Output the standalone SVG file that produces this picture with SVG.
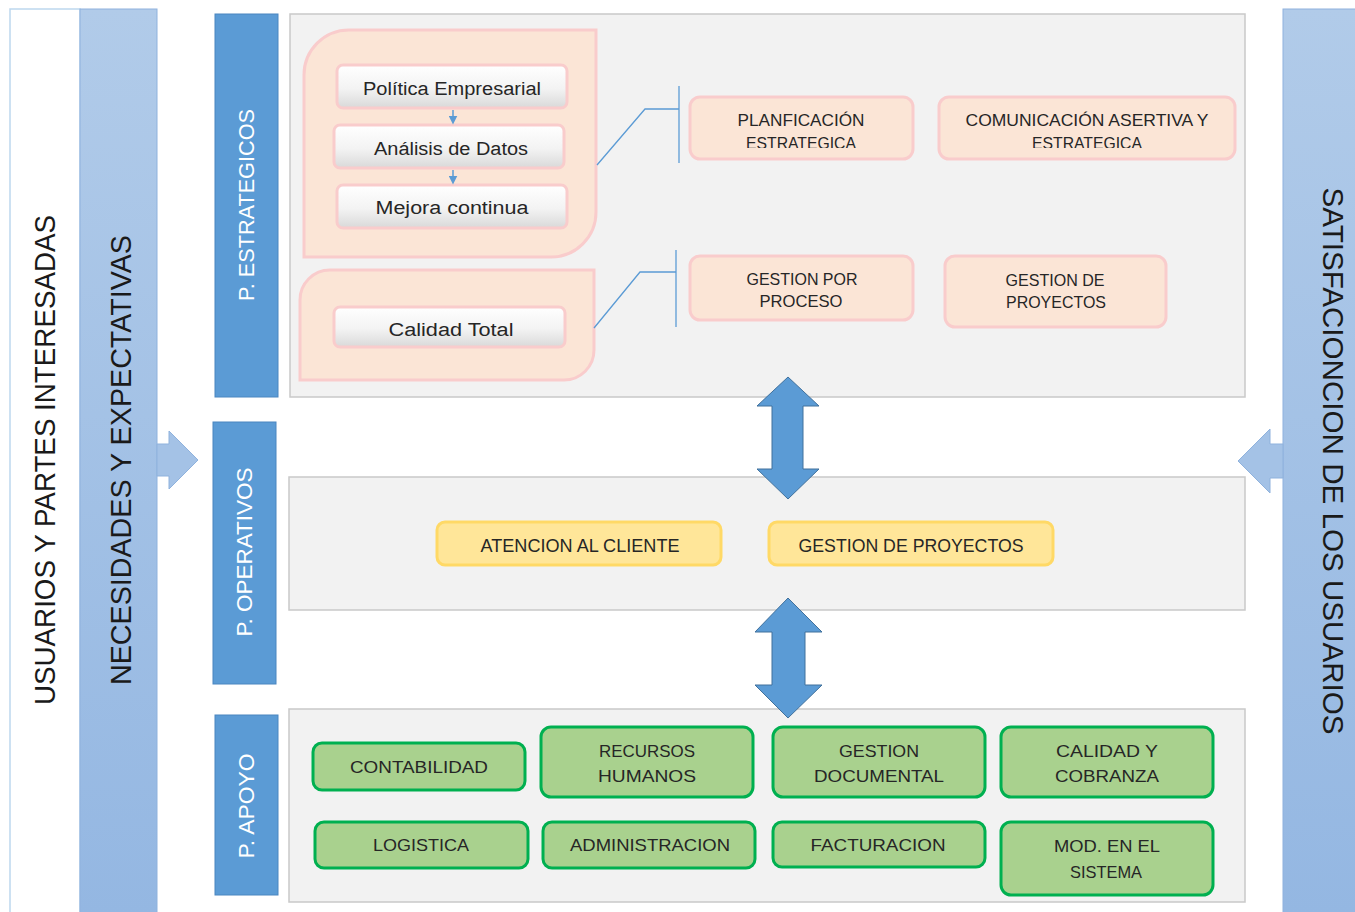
<svg xmlns="http://www.w3.org/2000/svg" width="1355" height="912" viewBox="0 0 1355 912">
  <defs>
    <linearGradient id="stripe" x1="0" y1="0" x2="0" y2="1">
      <stop offset="0" stop-color="#b1cbe9"/>
      <stop offset="1" stop-color="#94b7e2"/>
    </linearGradient>
    <linearGradient id="whiteBox" x1="0" y1="0" x2="0" y2="1">
      <stop offset="0" stop-color="#ffffff"/>
      <stop offset="0.55" stop-color="#f3f3f3"/>
      <stop offset="1" stop-color="#d9d9d9"/>
    </linearGradient>
    <clipPath id="clipPlan"><rect x="690" y="97" width="224" height="51"/></clipPath>
    <clipPath id="clipCom"><rect x="939" y="97" width="297" height="51"/></clipPath>
    <marker id="tinyArrow" viewBox="0 0 10 10" refX="5" refY="5" markerWidth="6" markerHeight="6" orient="auto">
      <path d="M0,0 L10,5 L0,10 z" fill="#5b9bd5"/>
    </marker>
  </defs>
  <style>
    text { font-family: "Liberation Sans", Arial, sans-serif; fill: #262626; text-anchor: middle; }
    .side { font-size: 29px; fill: #1a1a1a; }
    .lbl { font-size: 22px; fill: #ffffff; }
    .panel { fill: #f2f2f2; stroke: #c9c9c9; stroke-width: 1.5; }
    .tag { fill: #5b9bd5; stroke: #4a86c0; stroke-width: 1; }
    .pinkArea { fill: #fbe5d6; stroke: #f9cccc; stroke-width: 3; }
    .wbox { fill: url(#whiteBox); stroke: #f9cccc; stroke-width: 3; }
    .pbox { fill: #fbe5d6; stroke: #f9cccc; stroke-width: 3; }
    .ybox { fill: #ffe699; stroke: #ffd966; stroke-width: 3; }
    .gbox { fill: #a9d18e; stroke: #00b050; stroke-width: 3; }
    .t18 { font-size: 18px; }
    .t17 { font-size: 17px; }
    .link { fill: none; stroke: #5b9bd5; stroke-width: 1.3; }
    .big { fill: #5b9bd5; stroke: #41719c; stroke-width: 1; }
    .soft { fill: #a4c2e6; stroke: #8fb2dd; stroke-width: 1; }
  </style>

  <rect width="1355" height="912" fill="#ffffff"/>

  <!-- outer columns -->
  <g id="usuarios">
    <rect x="10" y="9" width="70" height="905" fill="#ffffff" stroke="#bdd7ee" stroke-width="1.5"/>
    <text class="side" transform="translate(55,460) rotate(-90)" textLength="490" lengthAdjust="spacingAndGlyphs">USUARIOS Y PARTES INTERESADAS</text>
  </g>
  <g id="necesidades">
    <rect x="80" y="9" width="77" height="905" fill="url(#stripe)" stroke="#8fb2dd" stroke-width="1"/>
    <text class="side" transform="translate(131,460) rotate(-90)" textLength="450" lengthAdjust="spacingAndGlyphs">NECESIDADES Y EXPECTATIVAS</text>
  </g>
  <g id="satisfaccion">
    <rect x="1283" y="9" width="74" height="905" fill="url(#stripe)" stroke="#8fb2dd" stroke-width="1"/>
    <text class="side" transform="translate(1323,461) rotate(90)" textLength="547" lengthAdjust="spacingAndGlyphs">SATISFACIONCION DE LOS USUARIOS</text>
  </g>

  <!-- process tags -->
  <g id="tag-estrategicos">
    <rect class="tag" x="215" y="14" width="63" height="383"/>
    <text class="lbl" transform="translate(254,205) rotate(-90)" textLength="192" lengthAdjust="spacingAndGlyphs">P. ESTRATEGICOS</text>
  </g>
  <g id="tag-operativos">
    <rect class="tag" x="213" y="422" width="63" height="262"/>
    <text class="lbl" transform="translate(252,552) rotate(-90)" textLength="169" lengthAdjust="spacingAndGlyphs">P. OPERATIVOS</text>
  </g>
  <g id="tag-apoyo">
    <rect class="tag" x="215" y="715" width="63" height="180"/>
    <text class="lbl" transform="translate(254,806) rotate(-90)" textLength="105" lengthAdjust="spacingAndGlyphs">P. APOYO</text>
  </g>

  <!-- panels -->
  <g id="panel-estrategicos"><rect class="panel" x="290" y="14" width="955" height="383"/></g>
  <g id="panel-operativos"><rect class="panel" x="289" y="477" width="956" height="133"/></g>
  <g id="panel-apoyo"><rect class="panel" x="289" y="709" width="956" height="193"/></g>

  <!-- strategic groups -->
  <g id="grupo-politica">
    <path class="pinkArea" d="M349,30 H596 V212 A45,45 0 0 1 551,257 H304 V75 A45,45 0 0 1 349,30 Z"/>
  </g>
  <g id="grupo-calidad">
    <path class="pinkArea" d="M330,270 H594 V350 A30,30 0 0 1 564,380 H300 V300 A30,30 0 0 1 330,270 Z"/>
  </g>

  <g id="politica-empresarial">
    <rect class="wbox" x="337" y="65" width="230" height="43" rx="6"/>
    <text class="t18" x="452" y="95" textLength="178" lengthAdjust="spacingAndGlyphs">Política Empresarial</text>
  </g>
  <g id="analisis-datos">
    <rect class="wbox" x="334" y="125" width="230" height="43" rx="6"/>
    <text class="t18" x="451" y="155" textLength="154" lengthAdjust="spacingAndGlyphs">Análisis de Datos</text>
  </g>
  <g id="mejora-continua">
    <rect class="wbox" x="337" y="185" width="230" height="43" rx="6"/>
    <text class="t18" x="452" y="214" textLength="153" lengthAdjust="spacingAndGlyphs">Mejora continua</text>
  </g>
  <g id="calidad-total">
    <rect class="wbox" x="334" y="307" width="231" height="40" rx="6"/>
    <text class="t18" x="451" y="336" textLength="125" lengthAdjust="spacingAndGlyphs">Calidad Total</text>
  </g>

  <g id="planificacion">
    <rect class="pbox" x="690" y="97" width="223" height="62" rx="10"/>
    <g clip-path="url(#clipPlan)">
      <text class="t17" x="801" y="126" textLength="127" lengthAdjust="spacingAndGlyphs">PLANFICACIÓN</text>
      <text class="t17" x="801" y="149" textLength="110" lengthAdjust="spacingAndGlyphs">ESTRATEGICA</text>
    </g>
  </g>
  <g id="comunicacion">
    <rect class="pbox" x="939" y="97" width="296" height="62" rx="10"/>
    <g clip-path="url(#clipCom)">
      <text class="t17" x="1087" y="126" textLength="243" lengthAdjust="spacingAndGlyphs">COMUNICACIÓN ASERTIVA Y</text>
      <text class="t17" x="1087" y="149" textLength="110" lengthAdjust="spacingAndGlyphs">ESTRATEGICA</text>
    </g>
  </g>
  <g id="gestion-proceso">
    <rect class="pbox" x="690" y="256" width="223" height="64" rx="10"/>
    <text class="t17" x="802" y="285" textLength="111" lengthAdjust="spacingAndGlyphs">GESTION POR</text>
    <text class="t17" x="801" y="307" textLength="83" lengthAdjust="spacingAndGlyphs">PROCESO</text>
  </g>
  <g id="gestion-proyectos-e">
    <rect class="pbox" x="945" y="256" width="221" height="71" rx="10"/>
    <text class="t17" x="1055" y="286" textLength="99" lengthAdjust="spacingAndGlyphs">GESTION DE</text>
    <text class="t17" x="1056" y="308" textLength="100" lengthAdjust="spacingAndGlyphs">PROYECTOS</text>
  </g>

  <!-- operative processes -->
  <g id="atencion-cliente">
    <rect class="ybox" x="437" y="522" width="284" height="43" rx="8"/>
    <text class="t18" x="580" y="552" textLength="199" lengthAdjust="spacingAndGlyphs">ATENCION AL CLIENTE</text>
  </g>
  <g id="gestion-proyectos-o">
    <rect class="ybox" x="769" y="522" width="284" height="43" rx="8"/>
    <text class="t18" x="911" y="552" textLength="225" lengthAdjust="spacingAndGlyphs">GESTION DE PROYECTOS</text>
  </g>

  <!-- support processes -->
  <g id="contabilidad">
    <rect class="gbox" x="313" y="743" width="212" height="47" rx="9"/>
    <text class="t17" x="419" y="773" textLength="138" lengthAdjust="spacingAndGlyphs">CONTABILIDAD</text>
  </g>
  <g id="recursos-humanos">
    <rect class="gbox" x="541" y="727" width="212" height="70" rx="10"/>
    <text class="t17" x="647" y="757" textLength="96" lengthAdjust="spacingAndGlyphs">RECURSOS</text>
    <text class="t17" x="647" y="782" textLength="98" lengthAdjust="spacingAndGlyphs">HUMANOS</text>
  </g>
  <g id="gestion-documental">
    <rect class="gbox" x="773" y="727" width="212" height="70" rx="10"/>
    <text class="t17" x="879" y="757" textLength="80" lengthAdjust="spacingAndGlyphs">GESTION</text>
    <text class="t17" x="879" y="782" textLength="130" lengthAdjust="spacingAndGlyphs">DOCUMENTAL</text>
  </g>
  <g id="calidad-cobranza">
    <rect class="gbox" x="1001" y="727" width="212" height="70" rx="10"/>
    <text class="t17" x="1107" y="757" textLength="102" lengthAdjust="spacingAndGlyphs">CALIDAD Y</text>
    <text class="t17" x="1107" y="782" textLength="104" lengthAdjust="spacingAndGlyphs">COBRANZA</text>
  </g>
  <g id="logistica">
    <rect class="gbox" x="315" y="822" width="213" height="46" rx="9"/>
    <text class="t17" x="421" y="851" textLength="96" lengthAdjust="spacingAndGlyphs">LOGISTICA</text>
  </g>
  <g id="administracion">
    <rect class="gbox" x="543" y="822" width="212" height="46" rx="9"/>
    <text class="t17" x="650" y="851" textLength="160" lengthAdjust="spacingAndGlyphs">ADMINISTRACION</text>
  </g>
  <g id="facturacion">
    <rect class="gbox" x="773" y="822" width="212" height="45" rx="9"/>
    <text class="t17" x="878" y="851" textLength="135" lengthAdjust="spacingAndGlyphs">FACTURACION</text>
  </g>
  <g id="mod-sistema">
    <rect class="gbox" x="1001" y="822" width="212" height="73" rx="10"/>
    <text class="t17" x="1107" y="852" textLength="106" lengthAdjust="spacingAndGlyphs">MOD. EN EL</text>
    <text class="t17" x="1106" y="878" textLength="72" lengthAdjust="spacingAndGlyphs">SISTEMA</text>
  </g>

  <!-- connectors -->
  <g id="connectors">
    <line x1="453" y1="110" x2="453" y2="120" stroke="#5b9bd5" stroke-width="1.5" marker-end="url(#tinyArrow)"/>
    <line x1="453" y1="170" x2="453" y2="180" stroke="#5b9bd5" stroke-width="1.5" marker-end="url(#tinyArrow)"/>
    <polyline class="link" points="597,165 645,109 679,109"/>
    <line class="link" x1="679" y1="86" x2="679" y2="163"/>
    <polyline class="link" points="594,328 640,272 676,272"/>
    <line class="link" x1="676" y1="250" x2="676" y2="327"/>
    <!-- vertical double arrows between levels -->
    <path class="big" d="M788,377 L819,406 L803,406 L803,469 L819,469 L788,499 L757,469 L772,469 L772,406 L757,406 Z"/>
    <path class="big" d="M788,598 L822,632 L805,632 L805,685 L822,685 L788,718 L755,685 L772,685 L772,632 L755,632 Z"/>
    <!-- side arrows -->
    <path class="soft" d="M157,444 L169,444 L169,431 L198,460 L169,489 L169,476 L157,476 Z"/>
    <path class="soft" d="M1283,444 L1270,444 L1270,429 L1238,461 L1270,493 L1270,478 L1283,478 Z"/>
  </g>
</svg>
